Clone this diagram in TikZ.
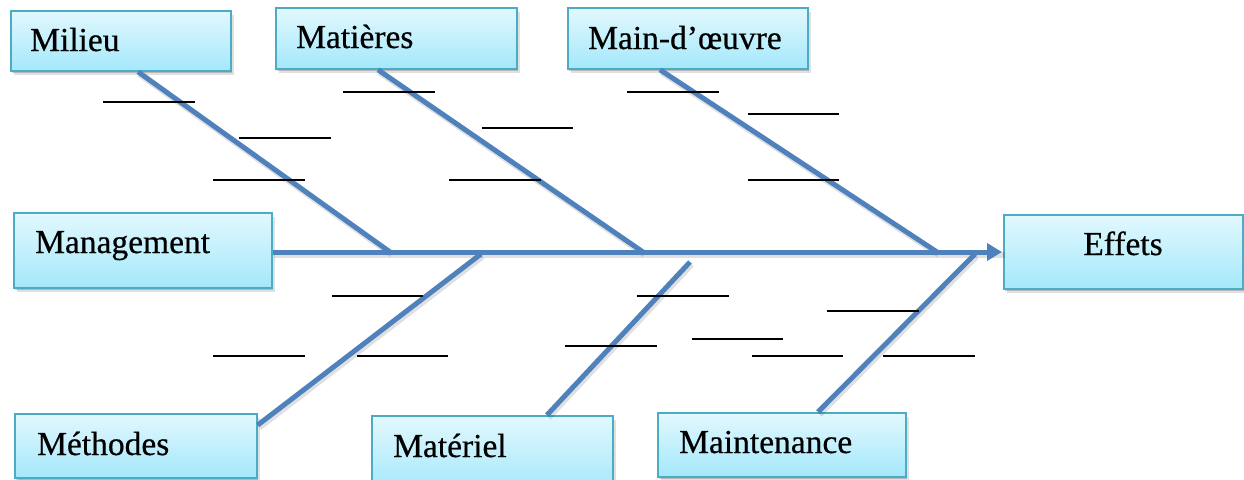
\documentclass[tikz,border=0pt]{standalone}
\usepackage{fontspec}
\setmainfont{Liberation Serif}
\newfontfamily\catfont{Liberation Serif}[FakeBold=0.5]
\usetikzlibrary{arrows.meta,shadows}

\definecolor{boxtop}{HTML}{E2F8FE}
\definecolor{boxbot}{HTML}{A4E8FB}
\definecolor{boxline}{HTML}{4BACC6}
\definecolor{bonecol}{HTML}{4F81BD}

\tikzset{
  catbox/.style={rectangle, draw=boxline, line width=1.8pt,
    top color=boxtop, bottom color=boxbot, inner sep=0pt,
    drop shadow={shadow xshift=1.5pt, shadow yshift=-2.5pt, opacity=0.18, fill=black},
    drop shadow={shadow xshift=3pt, shadow yshift=-4pt, opacity=0.12, fill=black}},
  cattext/.style={anchor=base west, inner sep=0pt,
    font=\catfont\fontsize{33.5}{40}\selectfont},
  bone/.style={draw=bonecol, line width=5pt},
  boneshadow/.style={draw=black, line width=6pt, opacity=0.12,
    transform canvas={xshift=1.5pt, yshift=-2.5pt}},
  slot/.style={draw=black, line width=1.8pt}
}

\begin{document}
\begin{tikzpicture}[x=1pt, y=-1pt]
\useasboundingbox (0,0) rectangle (1244,479);
\clip (0,0) rectangle (1244,479);

% category boxes (corner, width, height)
\node[catbox, anchor=north west, minimum width=220pt, minimum height=60pt] (milieu) at (10,10) {};
\node[catbox, anchor=north west, minimum width=241pt, minimum height=61pt] (matieres) at (275,7) {};
\node[catbox, anchor=north west, minimum width=240pt, minimum height=61pt] (mainoeuvre) at (567,7) {};
\node[catbox, anchor=north west, minimum width=258pt, minimum height=75pt] (management) at (13,212) {};
\node[catbox, anchor=north west, minimum width=239pt, minimum height=74pt] (effets) at (1003,214) {};
\node[catbox, anchor=north west, minimum width=242pt, minimum height=64pt] (methodes) at (14,413) {};
\node[catbox, anchor=north west, minimum width=241pt, minimum height=75pt] (materiel) at (371,415) {};
\node[catbox, anchor=north west, minimum width=248pt, minimum height=64pt] (maintenance) at (657,412) {};

% box captions
\node[cattext] (milieu-t) at (30,51) {Milieu};
\node[cattext] (matieres-t) at (296,48) {Matières};
\node[cattext] (mainoeuvre-t) at (588,49) {Main-d’œuvre};
\node[cattext] (management-t) at (35,253) {Management};
\node[cattext, anchor=base] (effets-t) at (1123,255) {Effets};
\node[cattext] (methodes-t) at (37,455) {Méthodes};
\node[cattext] (materiel-t) at (393,457) {Matériel};
\node[cattext] (maintenance-t) at (679,453) {Maintenance};

% junctions on the spine
\coordinate (j1) at (390,252);
\coordinate (j2) at (643,252);
\coordinate (j3) at (937,252);
\coordinate (j4) at (481,254);
\coordinate (j5) at (690,262);
\coordinate (j6) at (975,254);

% shadows of the bones
\draw[boneshadow] ([xshift=128pt]milieu.south west) -- (j1);
\draw[boneshadow] ([xshift=103pt]matieres.south west) -- (j2);
\draw[boneshadow] ([xshift=93pt]mainoeuvre.south west) -- (j3);
\draw[boneshadow] ([yshift=-12pt]methodes.north east) -- (j4);
\draw[boneshadow] ([xshift=176pt]materiel.north west) -- (j5);
\draw[boneshadow] ([xshift=161pt]maintenance.north west) -- (j6);
\draw[boneshadow] (management.east |- 0,252) -- (effets.west |- 0,252);

% bones
\draw[bone] ([xshift=128pt]milieu.south west) -- (j1);
\draw[bone] ([xshift=103pt]matieres.south west) -- (j2);
\draw[bone] ([xshift=93pt]mainoeuvre.south west) -- (j3);
\draw[bone] ([yshift=-12pt]methodes.north east) -- (j4);
\draw[bone] ([xshift=176pt]materiel.north west) -- (j5);
\draw[bone] ([xshift=161pt]maintenance.north west) -- (j6);

% spine
\draw[bone, -{Triangle[length=15pt, width=17pt]}]
  (management.east |- 0,252) -- ([xshift=-1pt]effets.west |- 0,252);

% blanks for causes
\draw[slot] (103,102) -- (195,102);
\draw[slot] (239,138) -- (331,138);
\draw[slot] (213,180) -- (305,180);
\draw[slot] (343,92) -- (435,92);
\draw[slot] (482,128) -- (573,128);
\draw[slot] (449,180) -- (541,180);
\draw[slot] (627,92) -- (719,92);
\draw[slot] (748,114) -- (839,114);
\draw[slot] (748,180) -- (839,180);
\draw[slot] (332,296) -- (423,296);
\draw[slot] (213,356) -- (305,356);
\draw[slot] (357,356) -- (448,356);
\draw[slot] (637,296) -- (729,296);
\draw[slot] (565,346) -- (657,346);
\draw[slot] (692,339) -- (783,339);
\draw[slot] (752,356) -- (843,356);
\draw[slot] (827,311) -- (919,311);
\draw[slot] (883,356) -- (975,356);
\end{tikzpicture}
\end{document}
